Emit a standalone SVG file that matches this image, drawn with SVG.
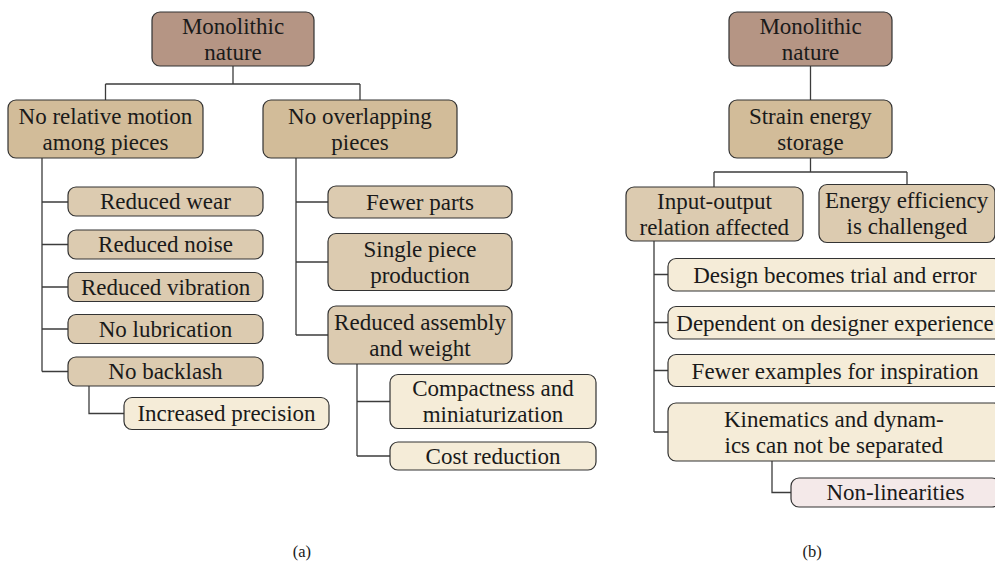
<svg xmlns="http://www.w3.org/2000/svg" width="995" height="564" viewBox="0 0 995 564">
  <!-- connectors -->
  <g id="connectors" fill="none" stroke="#3c3c3c" stroke-width="1.3">
    <!-- tree (a) -->
    <path d="M233 66 V84 M105.5 84 H360 M105.5 84 V100 M360 84 V100"/>
    <path d="M42 158 V371.5 M42 202 H68 M42 244.5 H68 M42 287 H68 M42 329 H68 M42 371.5 H68"/>
    <path d="M89 386 V413.5 H124"/>
    <path d="M296 158 V335 M296 202 H328 M296 262 H328 M296 335 H328"/>
    <path d="M357 364 V456 M357 401.5 H390 M357 456 H390"/>
    <!-- tree (b) -->
    <path d="M810.5 66 V100"/>
    <path d="M810.5 158 V172 M714 172 H907 M714 172 V187 M907 172 V184.5"/>
    <path d="M654 241 V432 M654 274.5 H668 M654 322.5 H668 M654 370.5 H668 M654 432 H668"/>
    <path d="M772 461 V492.5 H791"/>
  </g>

  <g id="nodes">
    <!-- tree (a) -->
    <g id="a-root">
      <rect x="152" y="12" width="162" height="54" rx="8" fill="#b59584" stroke="#333333" stroke-width="1.2"/>
      <text font-family="Liberation Serif" font-size="23" fill="#1a1a1a" x="181.9" y="33.5">Monolithic</text>
      <text font-family="Liberation Serif" font-size="23" fill="#1a1a1a" x="204.3" y="59.5">nature</text>
    </g>
    <g id="a-motion">
      <rect x="8" y="100" width="195" height="58" rx="8" fill="#d2bc99" stroke="#333333" stroke-width="1.2"/>
      <text font-family="Liberation Serif" font-size="23" fill="#1a1a1a" x="18.6" y="123.5">No relative motion</text>
      <text font-family="Liberation Serif" font-size="23" fill="#1a1a1a" x="42.6" y="149.5">among pieces</text>
    </g>
    <g id="a-overlap">
      <rect x="263" y="100" width="194" height="58" rx="8" fill="#d2bc99" stroke="#333333" stroke-width="1.2"/>
      <text font-family="Liberation Serif" font-size="23" fill="#1a1a1a" x="288.1" y="123.5">No overlapping</text>
      <text font-family="Liberation Serif" font-size="23" fill="#1a1a1a" x="331.3" y="149.5">pieces</text>
    </g>
    <g id="a-wear">
      <rect x="68" y="187" width="195" height="29" rx="8" fill="#dccbb0" stroke="#333333" stroke-width="1.2"/>
      <text font-family="Liberation Serif" font-size="23" fill="#1a1a1a" x="100" y="209">Reduced wear</text>
    </g>
    <g id="a-noise">
      <rect x="68" y="230" width="195" height="29" rx="8" fill="#dccbb0" stroke="#333333" stroke-width="1.2"/>
      <text font-family="Liberation Serif" font-size="23" fill="#1a1a1a" x="98.1" y="252">Reduced noise</text>
    </g>
    <g id="a-vibration">
      <rect x="68" y="272.5" width="195" height="29" rx="8" fill="#dccbb0" stroke="#333333" stroke-width="1.2"/>
      <text font-family="Liberation Serif" font-size="23" fill="#1a1a1a" x="80.9" y="294.5">Reduced vibration</text>
    </g>
    <g id="a-lubrication">
      <rect x="68" y="314.5" width="195" height="29" rx="8" fill="#dccbb0" stroke="#333333" stroke-width="1.2"/>
      <text font-family="Liberation Serif" font-size="23" fill="#1a1a1a" x="98.7" y="336.5">No lubrication</text>
    </g>
    <g id="a-backlash">
      <rect x="68" y="357" width="195" height="29" rx="8" fill="#dccbb0" stroke="#333333" stroke-width="1.2"/>
      <text font-family="Liberation Serif" font-size="23" fill="#1a1a1a" x="108.3" y="379">No backlash</text>
    </g>
    <g id="a-precision">
      <rect x="124" y="397.5" width="205" height="32" rx="8" fill="#f5ecd8" stroke="#333333" stroke-width="1.2"/>
      <text font-family="Liberation Serif" font-size="23" fill="#1a1a1a" x="137.4" y="421">Increased precision</text>
    </g>
    <g id="a-fewer-parts">
      <rect x="328" y="186" width="184" height="32" rx="8" fill="#dccbb0" stroke="#333333" stroke-width="1.2"/>
      <text font-family="Liberation Serif" font-size="23" fill="#1a1a1a" x="366" y="209.5">Fewer parts</text>
    </g>
    <g id="a-single-piece">
      <rect x="328" y="233.5" width="184" height="57" rx="8" fill="#dccbb0" stroke="#333333" stroke-width="1.2"/>
      <text font-family="Liberation Serif" font-size="23" fill="#1a1a1a" x="363.5" y="256.5">Single piece</text>
      <text font-family="Liberation Serif" font-size="23" fill="#1a1a1a" x="370.2" y="282.5">production</text>
    </g>
    <g id="a-assembly">
      <rect x="328" y="306" width="184" height="58" rx="8" fill="#dccbb0" stroke="#333333" stroke-width="1.2"/>
      <text font-family="Liberation Serif" font-size="23" fill="#1a1a1a" x="334.1" y="329.5">Reduced assembly</text>
      <text font-family="Liberation Serif" font-size="23" fill="#1a1a1a" x="369.2" y="355.5">and weight</text>
    </g>
    <g id="a-compactness">
      <rect x="390" y="374.5" width="206" height="54" rx="8" fill="#f5ecd8" stroke="#333333" stroke-width="1.2"/>
      <text font-family="Liberation Serif" font-size="23" fill="#1a1a1a" x="412.2" y="396">Compactness and</text>
      <text font-family="Liberation Serif" font-size="23" fill="#1a1a1a" x="422.7" y="422">miniaturization</text>
    </g>
    <g id="a-cost">
      <rect x="390" y="442" width="206" height="28" rx="8" fill="#f5ecd8" stroke="#333333" stroke-width="1.2"/>
      <text font-family="Liberation Serif" font-size="23" fill="#1a1a1a" x="425.6" y="463.5">Cost reduction</text>
    </g>

    <!-- tree (b) -->
    <g id="b-root">
      <rect x="729" y="12" width="163" height="54" rx="8" fill="#b59584" stroke="#333333" stroke-width="1.2"/>
      <text font-family="Liberation Serif" font-size="23" fill="#1a1a1a" x="759.4" y="33.5">Monolithic</text>
      <text font-family="Liberation Serif" font-size="23" fill="#1a1a1a" x="781.8" y="59.5">nature</text>
    </g>
    <g id="b-strain">
      <rect x="729" y="100" width="163" height="58" rx="8" fill="#d2bc99" stroke="#333333" stroke-width="1.2"/>
      <text font-family="Liberation Serif" font-size="23" fill="#1a1a1a" x="748.9" y="123.5">Strain energy</text>
      <text font-family="Liberation Serif" font-size="23" fill="#1a1a1a" x="777.3" y="149.5">storage</text>
    </g>
    <g id="b-io">
      <rect x="626" y="187" width="177" height="54" rx="8" fill="#dccbb0" stroke="#333333" stroke-width="1.2"/>
      <text font-family="Liberation Serif" font-size="23" fill="#1a1a1a" x="657" y="208.5">Input-output</text>
      <text font-family="Liberation Serif" font-size="23" fill="#1a1a1a" x="639.5" y="234.5">relation affected</text>
    </g>
    <g id="b-energy">
      <rect x="819" y="184.5" width="176" height="58" rx="8" fill="#dccbb0" stroke="#333333" stroke-width="1.2"/>
      <text font-family="Liberation Serif" font-size="23" fill="#1a1a1a" x="824.9" y="208">Energy efficiency</text>
      <text font-family="Liberation Serif" font-size="23" fill="#1a1a1a" x="846.6" y="234">is challenged</text>
    </g>
    <g id="b-trial">
      <rect x="668" y="258.5" width="334" height="32.5" rx="8" fill="#f5ecd8" stroke="#333333" stroke-width="1.2"/>
      <text font-family="Liberation Serif" font-size="23" fill="#1a1a1a" x="693.2" y="282.5">Design becomes trial and error</text>
    </g>
    <g id="b-experience">
      <rect x="668" y="306.5" width="334" height="32.5" rx="8" fill="#f5ecd8" stroke="#333333" stroke-width="1.2"/>
      <text font-family="Liberation Serif" font-size="23" fill="#1a1a1a" x="676.3" y="330.5">Dependent on designer experience</text>
    </g>
    <g id="b-examples">
      <rect x="668" y="354.5" width="334" height="32" rx="8" fill="#f5ecd8" stroke="#333333" stroke-width="1.2"/>
      <text font-family="Liberation Serif" font-size="23" fill="#1a1a1a" x="691.6" y="378.5">Fewer examples for inspiration</text>
    </g>
    <g id="b-kinematics">
      <rect x="668" y="403" width="334" height="58" rx="8" fill="#f5ecd8" stroke="#333333" stroke-width="1.2"/>
      <text font-family="Liberation Serif" font-size="23" fill="#1a1a1a" x="724" y="426.5">Kinematics and dynam-</text>
      <text font-family="Liberation Serif" font-size="23" fill="#1a1a1a" x="724.5" y="452.5">ics can not be separated</text>
    </g>
    <g id="b-nonlinear">
      <rect x="791" y="478" width="209" height="29" rx="8" fill="#f4e9e9" stroke="#333333" stroke-width="1.2"/>
      <text font-family="Liberation Serif" font-size="23" fill="#1a1a1a" x="826.5" y="500">Non-linearities</text>
    </g>
  </g>

  <!-- sub-figure captions -->
  <text font-family="Liberation Serif" font-size="16.5" fill="#1a1a1a" x="292.8" y="557">(a)</text>
  <text font-family="Liberation Serif" font-size="16.5" fill="#1a1a1a" x="802.4" y="557">(b)</text>
</svg>
